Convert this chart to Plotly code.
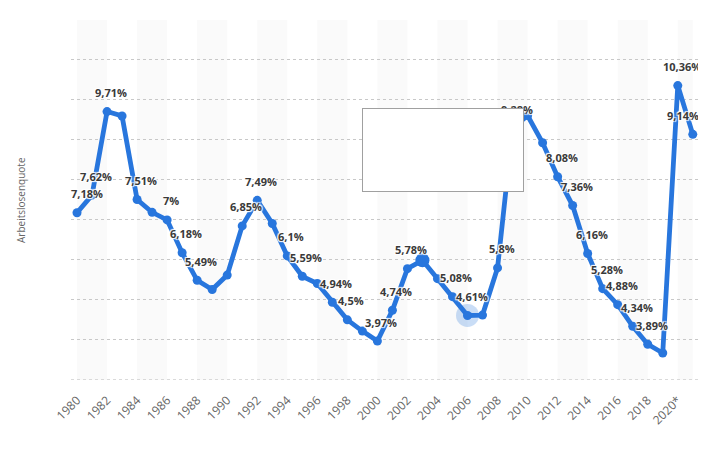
import plotly.graph_objects as go

# ---- data ----
years = list(range(1980, 2022))
values = [7.18, 7.62, 9.71, 9.6, 7.51, 7.19, 7.0, 6.18, 5.49, 5.26,
          5.62, 6.85, 7.49, 6.91, 6.1, 5.59, 5.41, 4.94, 4.5, 4.22,
          3.97, 4.74, 5.78, 5.99, 5.53, 5.08, 4.61, 4.62, 5.8, 9.28,
          9.61, 8.93, 8.08, 7.36, 6.16, 5.28, 4.88, 4.34, 3.89, 3.67,
          10.36, 9.14]
labeled_years = [1980, 1981, 1982, 1984, 1986, 1987, 1988, 1991, 1992, 1994,
                 1995, 1997, 1998, 2000, 2001, 2002, 2005, 2006, 2008, 2009,
                 2012, 2013, 2014, 2015, 2016, 2017, 2018, 2020, 2021]
tick_vals = list(range(1980, 2021, 2))
tick_text = [str(y) for y in tick_vals[:-1]] + ["2020*"]
y_title = "Arbeitslosenquote"
hover_year = 2003
halo_year = 2006
y_min, y_max = 3, 12

BLUE = "#2876dd"

def fmt(v):
    return f"{v:g}".replace(".", ",") + "%"

fig = go.Figure()

# hover halo
hi = years.index(halo_year)
fig.add_trace(go.Scatter(x=[years[hi]], y=[values[hi]], mode="markers",
                         marker=dict(size=23, color="rgba(40,118,221,0.25)"),
                         hoverinfo="skip", showlegend=False))

fig.add_trace(go.Scatter(
    x=years, y=values, mode="lines+markers",
    line=dict(color=BLUE, width=4.8),
    marker=dict(size=9, color=BLUE),
    cliponaxis=False,
    hoverinfo="skip", showlegend=False))

# hovered point
hv = years.index(hover_year)
fig.add_trace(go.Scatter(x=[years[hv]], y=[values[hv]], mode="markers",
                         marker=dict(size=14, color=BLUE),
                         hoverinfo="skip", showlegend=False))

# alternating bands
shapes = []
band_starts = tick_vals[::2]
for b in band_starts:
    shapes.append(dict(type="rect", xref="x", yref="paper",
                       x0=b, x1=min(b + 2, years[-1]), y0=0, y1=1,
                       fillcolor="#fafafa", line=dict(width=0), layer="below"))
# bottom dotted grid line
shapes.append(dict(type="line", xref="paper", yref="y", x0=0, x1=1, y0=y_min, y1=y_min,
                   line=dict(color="#c8c8c8", width=1, dash="dot"), layer="below"))

shadow = "1px 1px 1px #fff, -1px -1px 1px #fff, 1px -1px 1px #fff, -1px 1px 1px #fff"
annotations = []
for yr in labeled_years:
    v = values[years.index(yr)]
    xs = 4
    if yr == years[0]:
        xs = 10
    elif yr == years[-1]:
        xs = -10
    annotations.append(dict(x=yr, y=v, xref="x", yref="y", text=fmt(v),
                            showarrow=False, xshift=xs, yshift=19,
                            font=dict(family="Open Sans", size=11, color="#3a3a3a",
                                      weight=700, shadow=shadow)))

annotations.append(dict(xref="paper", yref="paper", x=-50 / 629, y=0.5,
                        text=y_title, textangle=-90, showarrow=False,
                        xanchor="center", yanchor="middle",
                        font=dict(family="Open Sans", size=10, color="#666666")))

# empty tooltip box
annotations.append(dict(xref="paper", yref="paper", x=(443 - 71) / 629, y=(380 - 150) / 360,
                        xanchor="center", yanchor="middle", text=" ", showarrow=False,
                        width=160, height=82, bgcolor="#ffffff", bordercolor="#a0a0a0",
                        borderwidth=1, borderpad=0))

# page body has an 8px margin, so the figure is sized to fill the rest of the window
fig.update_layout(
    width=698, height=442,
    margin=dict(l=63, r=6, t=12, b=70, autoexpand=False),
    plot_bgcolor="#ffffff", paper_bgcolor="#ffffff",
    shapes=shapes, annotations=annotations,
    hovermode=False,
    xaxis=dict(range=[1979.6, 2021.48], tickmode="array", tickvals=tick_vals,
               ticktext=tick_text, tickangle=-45, showgrid=False, zeroline=False,
               showline=False, ticks="", automargin=False, ticklabelstandoff=10,
               tickfont=dict(family="Open Sans", size=12, color="#666666")),
    yaxis=dict(range=[y_min - 0.004, y_max], dtick=1, tick0=y_min, showticklabels=False,
               showgrid=True, gridcolor="#c8c8c8", griddash="dot", gridwidth=1,
               zeroline=False, showline=False, automargin=False),
)

fig.write_html("out.html")
